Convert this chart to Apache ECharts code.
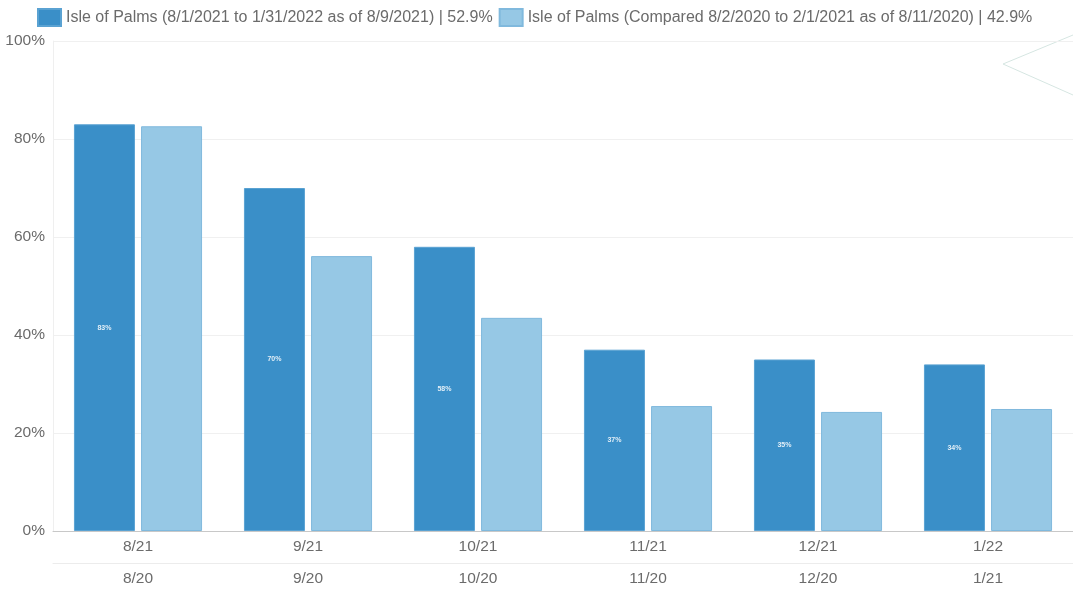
<!DOCTYPE html>
<html>
<head>
<meta charset="utf-8">
<script src="https://cdn.jsdelivr.net/npm/echarts@6/dist/echarts.min.js"></script>
<style>
  html, body { margin: 0; padding: 0; background: #fff; }
  #chart { width: 1073px; height: 592px; }
</style>
</head>
<body>
<div id="chart"></div>
<script>
// Occupancy by month: current season vs. same period one year earlier
const monthsCurrent = ['8/21', '9/21', '10/21', '11/21', '12/21', '1/22'];
const monthsPrior = ['8/20', '9/20', '10/20', '11/20', '12/20', '1/21'];
const currentValues = [83, 70, 58, 37, 35, 34];
const priorValues = [82.6, 56.1, 43.5, 25.5, 24.3, 24.9];
const currentName = 'Isle of Palms (8/1/2021 to 1/31/2022 as of 8/9/2021) | 52.9%';
const priorName = 'Isle of Palms (Compared 8/2/2020 to 2/1/2021 as of 8/11/2020) | 42.9%';
const yTicks = [0, 20, 40, 60, 80, 100];

const chart = echarts.init(document.getElementById('chart'), null, { renderer: 'canvas' });

const font = 'Helvetica, "Liberation Sans", Arial, sans-serif';

chart.setOption({
  animation: false,
  backgroundColor: '#ffffff',
  textStyle: { fontFamily: font },
  legend: {
    top: 3,
    left: 32,
    itemWidth: 23,
    itemHeight: 17,
    itemGap: 6,
    icon: 'rect',
    textStyle: { color: '#6b6b6b', fontSize: 16, fontFamily: font, padding: [0, 0, 0, 0] },
    data: [currentName, priorName]
  },
  grid: { left: 53, right: 0, top: 41, bottom: 61, containLabel: false },
  xAxis: [
    {
      type: 'category',
      data: monthsCurrent,
      position: 'bottom',
      axisLine: { show: true, lineStyle: { color: '#c8c8c8', width: 1 } },
      axisTick: { show: false },
      axisLabel: { color: '#6b6b6b', fontSize: 15.5, margin: 8, fontFamily: font }
    },
    {
      type: 'category',
      data: monthsPrior,
      position: 'bottom',
      offset: 32,
      axisLine: { show: true, lineStyle: { color: '#ececec', width: 1 } },
      axisTick: { show: false },
      axisLabel: { color: '#6b6b6b', fontSize: 15.5, margin: 8, fontFamily: font }
    }
  ],
  yAxis: {
    type: 'value',
    min: yTicks[0],
    max: yTicks[yTicks.length - 1],
    interval: yTicks[1] - yTicks[0],
    axisLine: { show: true, lineStyle: { color: '#efefef' } },
    axisTick: { show: false },
    splitLine: { lineStyle: { color: '#f0f0f0' } },
    axisLabel: {
      color: '#6b6b6b', fontSize: 15.5, margin: 8, fontFamily: font,
      formatter: v => v + '%'
    }
  },
  series: [
    {
      name: currentName,
      type: 'bar',
      xAxisIndex: 0,
      data: currentValues,
      barWidth: 61,
      barGap: '10%',
      itemStyle: { color: '#3a8fc8', borderColor: '#5aa2d2', borderWidth: 1 },
      label: {
        show: true,
        position: 'inside',
        color: 'rgba(255,255,255,0.85)',
        fontSize: 7,
        fontWeight: 'bold',
        formatter: p => Math.round(p.value) + '%'
      }
    },
    {
      name: priorName,
      type: 'bar',
      xAxisIndex: 0,
      data: priorValues,
      barWidth: 61,
      barGap: '10%',
      itemStyle: { color: '#96c8e5', borderColor: '#80b9dd', borderWidth: 1 }
    }
  ],
  graphic: [
    {
      type: 'polyline',
      silent: true,
      shape: { points: [[1073, 35], [1003, 64], [1073, 95]] },
      style: { stroke: '#d6e6e2', lineWidth: 1, fill: null }
    }
  ]
});
</script>
</body>
</html>
